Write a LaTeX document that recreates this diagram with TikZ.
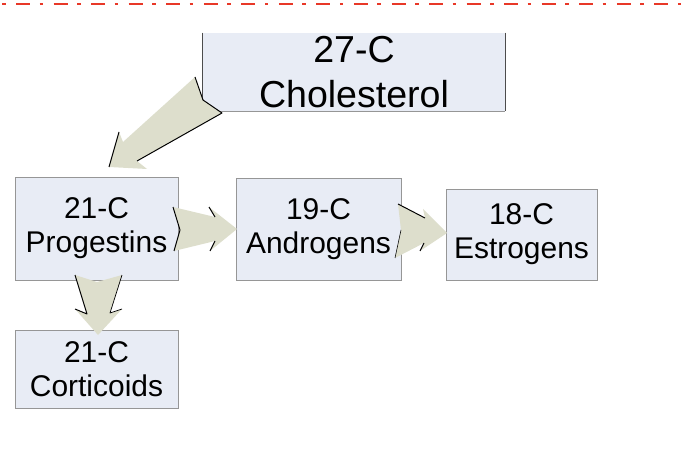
\documentclass[tikz,border=0pt]{standalone}
\usepackage{fontspec}
\setmainfont{Liberation Sans}
\usepackage{tikz}
\usetikzlibrary{calc,positioning}
\usepackage{xcolor}
\definecolor{boxfill}{RGB}{232,236,245}
\definecolor{boxline}{RGB}{150,150,150}
\definecolor{arrowfill}{RGB}{221,222,204}
\definecolor{myred}{RGB}{232,56,40}

\begin{document}
\begin{tikzpicture}[x=0.025cm,y=-0.025cm,
  stepbox/.style={fill=boxfill, draw=boxline, line width=0.6pt, inner sep=0pt, align=center,
    font=\fontsize{21.3}{24}\selectfont},
  blockarrow/.style={fill=arrowfill},
  arrowedge/.style={draw=black, line width=0.7pt, line join=round}]
  \useasboundingbox (0,0) rectangle (684,472);

  % dash-dot rule on top
  \draw[myred, line width=1.8pt, dash pattern=on 2.5pt off 7.5pt on 10pt off 6.7pt] (2,4) -- (684,4);

  % boxes
  \node[stepbox, draw=none, minimum width=7.55cm, minimum height=1.95cm,
    font=\fontsize{26.7}{32}\selectfont] (chol) at (354,72) {27-C\\Cholesterol};
  \draw[black!70, line width=0.7pt] (chol.north west) -- (chol.south west);
  \draw[black!70, line width=0.7pt] (chol.north east) -- (chol.south east);
  \draw[boxline, line width=0.7pt] (chol.south west) -- (chol.south east);
  \node[stepbox, minimum width=4.075cm, minimum height=2.575cm] (prog) at (96.5,228.5) {21-C\\Progestins};
  \node[stepbox, minimum width=4.125cm, minimum height=2.55cm] (andr) at (318.5,229) {19-C\\Androgens};
  \node[stepbox, minimum width=3.775cm, minimum height=2.275cm] (estr) at (521.5,234.5) {18-C\\Estrogens};
  \node[stepbox, minimum width=4.075cm, minimum height=1.95cm] (cort) at (96.5,369) {21-C\\Corticoids};

  % block arrows
  \fill[blockarrow] (195,77) -- (203,100) -- (222,113) -- (137,161) -- (147,169) -- (109,167)
    -- (119,132) -- (123,142) -- cycle;
  \draw[arrowedge] (109,167) -- (119,132);
  \draw[arrowedge] (195,77) -- (203,100) -- (222,113) -- (137,161);
  \fill[blockarrow] (173,207) -- (215,217) -- (209,207) -- (237,229) -- (210,251) -- (215,241)
    -- (174,251) -- (180,230) -- cycle;
  \draw[arrowedge] (173,207) -- (180,230) -- (174,251);
  \draw[arrowedge] (209,207) -- (215,217);
  \draw[arrowedge] (210,251) -- (215,241);
  \fill[blockarrow] (398,204) -- (425,218) -- (423,209) -- (447,233) -- (420,251) -- (424,243)
    -- (395,258) -- (401,230) -- cycle;
  \draw[arrowedge] (398,204) -- (425,218);
  \draw[arrowedge, line width=0.4pt] (401,230) -- (395,258);
  \draw[arrowedge] (420,251) -- (424,243);
  \fill[blockarrow] (75,275) -- (97,282) -- (122,275) -- (110,313) -- (122,309) -- (98,335)
    -- (75,309) -- (87,314) -- cycle;
  \draw[arrowedge] (75,275) -- (87,314) -- (75,309);
  \draw[arrowedge, line width=0.5pt] (122,275) -- (110,313) -- (122,309);
\end{tikzpicture}
\end{document}
